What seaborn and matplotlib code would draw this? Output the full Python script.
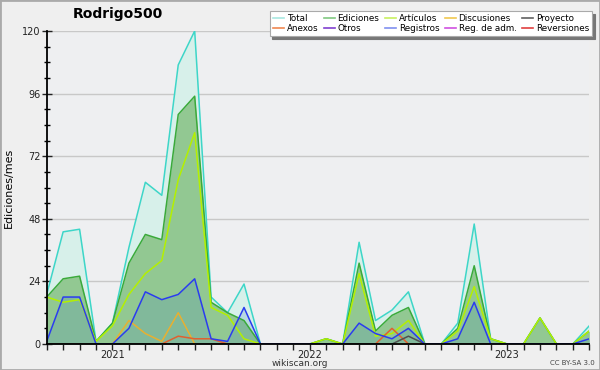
import numpy as np
import pandas as pd
import matplotlib
matplotlib.use('Agg')
import matplotlib.pyplot as plt
import seaborn as sns
from matplotlib.lines import Line2D
from matplotlib.patches import Rectangle

# meses: sep 2020 .. jun 2023
meses = pd.period_range('2020-09', '2023-06', freq='M').astype(str)
anios = ['2021', '2022', '2023']

total       = [19, 43, 44, 1, 8, 37, 62, 57, 107, 120, 18, 12, 23, 0, 0, 0, 0, 2, 0, 39, 9, 13, 20, 0, 0, 8, 46, 2, 0, 0, 10, 0, 0, 7]
ediciones   = [18, 25, 26, 1, 8, 31, 42, 40, 88, 95, 16, 12, 9, 0, 0, 0, 0, 2, 0, 31, 5, 11, 14, 0, 0, 6, 30, 2, 0, 0, 10, 0, 0, 5]
articulos   = [18, 16, 17, 1, 7, 19, 27, 32, 63, 81, 14, 11, 2, 0, 0, 0, 0, 2, 0, 27, 3, 4, 9, 0, 0, 5, 22, 2, 0, 0, 10, 0, 0, 5]
registros   = [1, 18, 18, 0, 0, 6, 20, 17, 19, 25, 2, 1, 14, 0, 0, 0, 0, 0, 0, 8, 4, 2, 6, 0, 0, 2, 16, 0, 0, 0, 0, 0, 0, 2]
discusiones = [0, 0, 0, 0, 0, 9, 4, 1, 12, 0, 0, 0, 0, 0, 0, 0, 0, 0, 0, 0, 0, 0, 0, 0, 0, 0, 0, 0, 0, 0, 0, 0, 0, 0]
anexos      = [0, 0, 0, 0, 0, 0, 0, 0, 3, 2, 2, 0, 0, 0, 0, 0, 0, 0, 0, 0, 0, 6, 0, 0, 0, 0, 0, 0, 0, 0, 0, 0, 0, 0]
proyecto    = [0, 0, 0, 0, 0, 0, 0, 0, 0, 0, 0, 0, 0, 0, 0, 0, 0, 0, 0, 0, 0, 0, 3, 0, 0, 0, 0, 0, 0, 0, 0, 0, 0, 0]

df = pd.DataFrame({'mes': np.arange(len(meses)), 'Total': total, 'Ediciones': ediciones,
                   'Artículos': articulos, 'Registros': registros, 'Discusiones': discusiones,
                   'Anexos': anexos, 'Proyecto': proyecto})

fig = plt.figure(figsize=(6, 3.7), dpi=100, facecolor='#efefef')
ax = fig.add_axes([46.7/600, 26/370, 542.6/600, 313/370])
ax.set_facecolor('#eeeff1')

# rellenos
ax.fill_between(df['mes'], df['Total'], color='#d7f0ea', lw=0, zorder=1)
ax.fill_between(df['mes'], df['Ediciones'], color='#92c892', lw=0, zorder=1.1)
ax.fill_between(df['mes'], df['Registros'], color='#3f7fc0', alpha=0.2, lw=0, zorder=1.2)

# lineas
lineas = [('Total', '#3dd6c8'), ('Ediciones', '#3aaa3a'), ('Artículos', '#b4f000'),
          ('Discusiones', '#e8b030'), ('Anexos', '#e06030'), ('Proyecto', '#505050'),
          ('Registros', '#2a3cf0')]
for nombre, c in lineas:
    sns.lineplot(data=df, x='mes', y=nombre, color=c, lw=1.1, ax=ax, zorder=2)

ax.set_xlim(0, len(meses) - 1)
ax.set_ylim(0, 120)
ax.set_yticks(range(0, 121, 24))
ax.set_yticks(range(0, 121, 6), minor=True)
pos_anios = [list(meses).index(a + '-01') for a in anios]
ax.set_xticks(pos_anios)
ax.set_xticklabels(anios)
ax.set_xticks(range(len(meses)), minor=True)
ax.grid(axis='y', color='#c8c8c8', lw=1)
ax.set_axisbelow(True)
for s in ['top', 'right']:
    ax.spines[s].set_visible(False)
for s in ['left', 'bottom']:
    ax.spines[s].set_linewidth(1.3)
    ax.spines[s].set_zorder(5)
ax.tick_params(axis='y', which='major', direction='inout', length=7, width=1, labelsize=7, colors='#222', pad=1)
ax.tick_params(axis='y', which='minor', direction='inout', length=5, width=1)
ax.tick_params(axis='x', which='both', direction='out', length=4, width=1, labelsize=7, colors='#222', pad=0)
ax.set_xlabel('')
ax.set_ylabel('Ediciones/mes', fontsize=8, labelpad=6)

fig.text(118/600, 1 - 14/370, 'Rodrigo500', ha='center', va='center', fontsize=10, fontweight='bold')
fig.text(300/600, 1 - 363/370, 'wikiscan.org', ha='center', va='center', fontsize=6.5, color='#333')
fig.text(572/600, 1 - 363/370, 'CC BY-SA 3.0', ha='center', va='center', fontsize=5, color='#444')

# leyenda
nombres = ['Total', 'Anexos', 'Ediciones', 'Otros', 'Artículos', 'Registros',
           'Discusiones', 'Reg. de adm.', 'Proyecto', 'Reversiones']
colores = ['#a8e8e0', '#f08850', '#80c880', '#8040d0', '#c8f060', '#8090f0',
           '#f0c850', '#d050e0', '#606060', '#e04040']
handles = [Line2D([], [], color=c, lw=1.2) for c in colores]
leg = ax.legend(handles, nombres, ncol=5, loc='upper right', bbox_to_anchor=(592/600, 1 - 11/370),
                bbox_transform=fig.transFigure, fontsize=6.3, frameon=True, fancybox=False,
                shadow={'color': '#777', 'alpha': 1}, borderpad=0.35, labelspacing=0.1,
                handlelength=1.3, handletextpad=0.3, columnspacing=0.6, borderaxespad=0)
leg.get_frame().set_edgecolor('#aaa')
leg.get_frame().set_linewidth(0.8)
leg.set_zorder(10)

fig.patches.append(Rectangle((0, 0), 1, 1, transform=fig.transFigure, fill=False,
                             edgecolor='#aaa', lw=2))
fig.savefig('out.png', dpi=100, facecolor=fig.get_facecolor())
